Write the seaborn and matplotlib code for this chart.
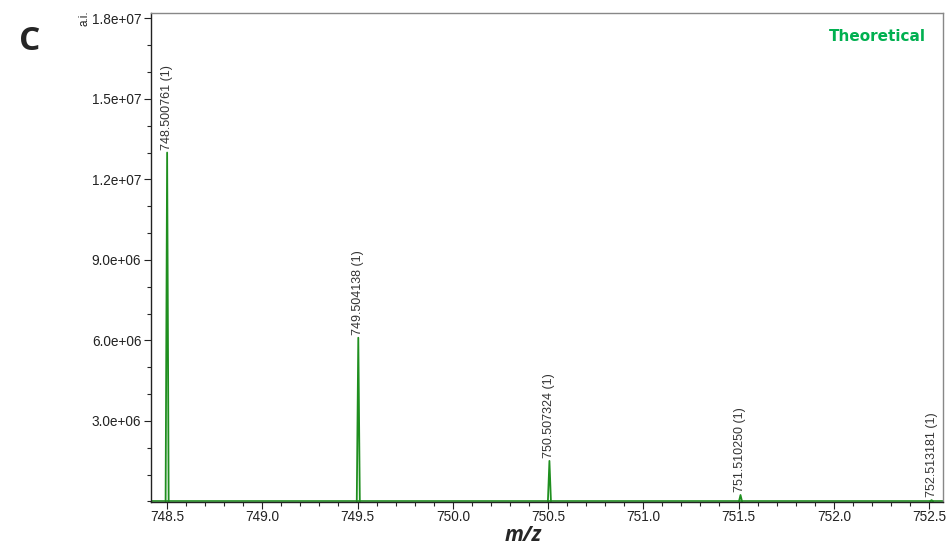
import pandas as pd
import matplotlib.pyplot as plt
import seaborn as sns
from matplotlib.ticker import MultipleLocator, FixedLocator

# picos teóricos (m/z, intensidad)
mz_peaks = [748.500761, 749.504138, 750.507324, 751.510250, 752.513181]
intensities = [1.30e7, 6.10e6, 1.51e6, 2.4e5, 5.0e4]
peak_labels = ['748.500761 (1)', '749.504138 (1)', '750.507324 (1)',
               '751.510250 (1)', '752.513181 (1)']
x_ticks = [748.5, 749.0, 749.5, 750.0, 750.5, 751.0, 751.5, 752.0, 752.5]
y_ticks = [3.0e6, 6.0e6, 9.0e6, 1.2e7, 1.5e7, 1.8e7]
y_ticklabels = ['3.0e+06', '6.0e+06', '9.0e+06', '1.2e+07', '1.5e+07', '1.8e+07']

HALF_WIDTH = 0.008
GREEN = '#1f8f1f'


def main():
    sns.set_style('white')
    plt.rcParams['font.family'] = ['Liberation Sans', 'DejaVu Sans']

    # perfil de cada pico: base - cima - base
    rows = []
    for i, (c, h) in enumerate(zip(mz_peaks, intensities)):
        rows.append({'peak': i, 'mz': c - HALF_WIDTH, 'int': 0.0})
        rows.append({'peak': i, 'mz': c, 'int': h})
        rows.append({'peak': i, 'mz': c + HALF_WIDTH, 'int': 0.0})
    df = pd.DataFrame(rows)

    fig = plt.figure(figsize=(9.46, 5.47), dpi=100)
    ax = fig.add_axes([0.1596, 0.0823, 0.8372, 0.8939])

    ax.axhline(0, color=GREEN, lw=1.2, zorder=1)
    sns.lineplot(data=df, x='mz', y='int', units='peak', estimator=None,
                 sort=False, color=GREEN, lw=1.3, ax=ax, legend=False)

    for c, h, lab in zip(mz_peaks, intensities, peak_labels):
        ax.text(c, h + 1.0e5, lab, rotation=90, ha='center', va='bottom',
                fontsize=9, color='#333333')

    ax.set_xlim(748.416, 752.573)
    ax.set_ylim(-2e4, 1.82e7)
    ax.xaxis.set_major_locator(FixedLocator(x_ticks))
    ax.xaxis.set_minor_locator(MultipleLocator(0.1))
    ax.set_xticklabels([f'{v:.1f}' for v in x_ticks])
    ax.yaxis.set_major_locator(FixedLocator(y_ticks))
    ax.yaxis.set_minor_locator(MultipleLocator(1.0e6))
    ax.set_yticklabels(y_ticklabels)

    ax.tick_params(axis='both', which='major', length=5, width=0.8,
                   labelsize=9.8, colors='#222222', direction='out',
                   bottom=True, left=True, pad=2)
    ax.tick_params(axis='x', which='major', pad=1)
    ax.tick_params(axis='both', which='minor', length=3, width=0.8,
                   bottom=True, left=True, direction='out')
    for s in ['left', 'bottom']:
        ax.spines[s].set_color('#222222')
        ax.spines[s].set_linewidth(1.0)
    for s in ['top', 'right']:
        ax.spines[s].set_color('#888888')
        ax.spines[s].set_linewidth(1.0)

    ax.set_xlabel('')
    ax.set_ylabel('')
    fig.text(0.553, 0.001, 'm/z', ha='center', va='bottom', fontsize=15,
             fontweight='bold', style='italic', family='Open Sans')
    fig.text(0.089, 0.967, 'a.i.', rotation=90, ha='center', va='center',
             fontsize=8.5, color='#222222')
    fig.text(0.02, 0.925, 'C', ha='left', va='center', fontsize=24,
             fontweight='bold', family='Open Sans')
    ax.text(0.978, 0.952, 'Theoretical', transform=ax.transAxes, ha='right',
            va='center', fontsize=11, fontweight='bold', color='#00b050',
            family='DejaVu Sans')

    fig.savefig('out.png', dpi=100)
    plt.close(fig)


if __name__ == '__main__':
    main()
